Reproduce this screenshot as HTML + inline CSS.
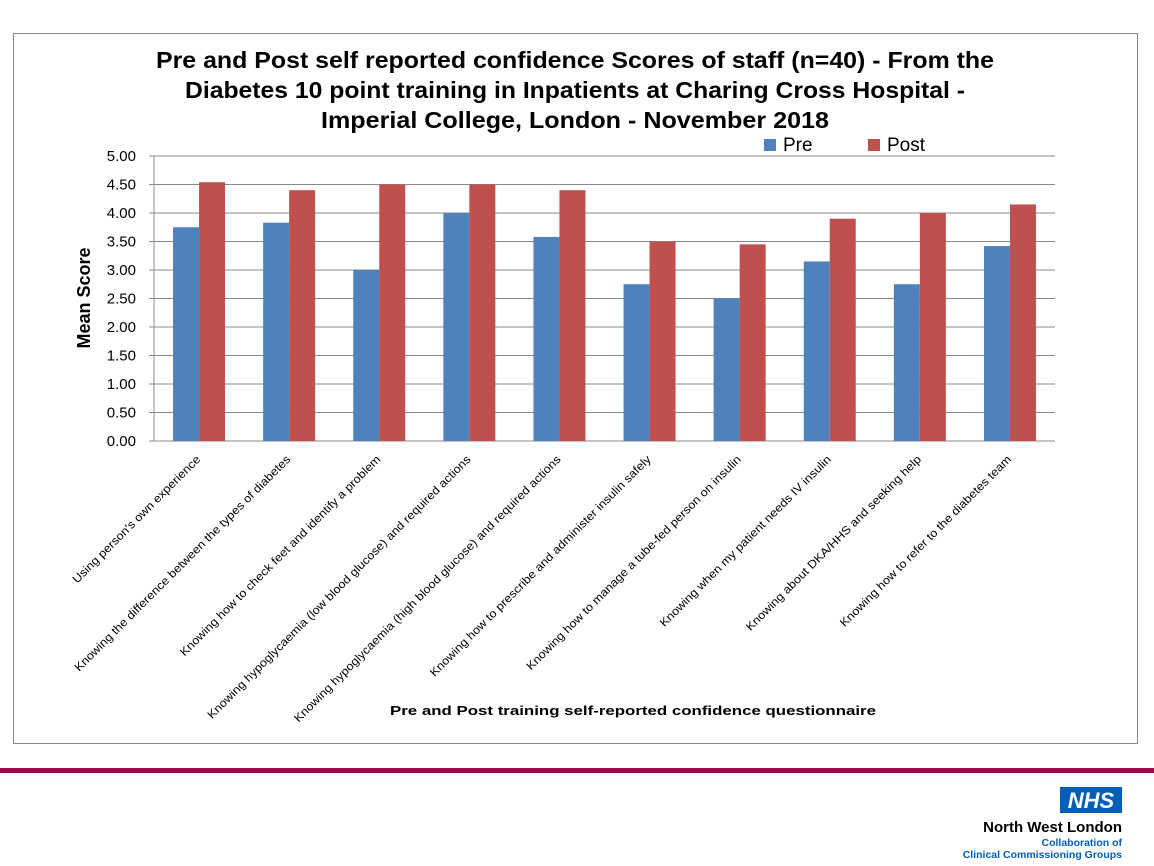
<!DOCTYPE html>
<html><head><meta charset="utf-8"><style>
html,body{margin:0;padding:0;background:#fff;width:1154px;height:866px;overflow:hidden}
svg{display:block}
</style></head><body>
<svg id="chart" width="1154" height="866" xmlns="http://www.w3.org/2000/svg" font-family="'Liberation Sans', sans-serif">
<rect x="13.5" y="33.5" width="1124" height="710" fill="#fff" stroke="#888"/>
<g font-family="'Liberation Sans Narrow','Liberation Sans',sans-serif" font-weight="bold" font-size="23" text-anchor="middle" fill="#000">
<text x="575" y="68" textLength="838" lengthAdjust="spacingAndGlyphs">Pre and Post self reported confidence Scores of staff (n=40) -  From the</text>
<text x="575" y="98" textLength="780" lengthAdjust="spacingAndGlyphs">Diabetes 10 point training in Inpatients at Charing Cross Hospital -</text>
<text x="575" y="128" textLength="508" lengthAdjust="spacingAndGlyphs">Imperial College, London - November 2018</text>
</g>
<g id="legend">
<rect x="764" y="139" width="12" height="12" fill="#4f81bd"/>
<text x="783" y="151" font-size="19" font-family="'Liberation Sans Narrow','Liberation Sans',sans-serif">Pre</text>
<rect x="868" y="139" width="12" height="12" fill="#c0504d"/>
<text x="887" y="151" font-size="19" font-family="'Liberation Sans Narrow','Liberation Sans',sans-serif">Post</text>
</g>
<text transform="translate(90,298) rotate(-90)" text-anchor="middle" font-size="18" font-weight="bold">Mean Score</text>
<text x="633" y="715" text-anchor="middle" font-size="13" font-weight="bold" textLength="486" lengthAdjust="spacingAndGlyphs">Pre and Post  training self-reported confidence questionnaire</text>
<g id="grid"></g><g id="bars"></g><g id="labels"></g>
<rect x="0" y="768" width="1154" height="5" fill="#9b0a4b"/>
<rect x="1060" y="787" width="62" height="26" fill="#005eb8"/>
<text x="1091" y="808" text-anchor="middle" font-size="22" font-weight="bold" font-style="italic" fill="#fff">NHS</text>
<text x="1122" y="832" text-anchor="end" font-size="15" font-weight="bold" fill="#000">North West London</text>
<text x="1122" y="846" text-anchor="end" font-size="10.5" font-weight="bold" fill="#005eb8">Collaboration of</text>
<text x="1122" y="858" text-anchor="end" font-size="10.5" font-weight="bold" fill="#005eb8">Clinical Commissioning Groups</text>
</svg>
<script>
const categories = ["Using person's own experience","Knowing the difference between the types of diabetes","Knowing how to check feet and identify a problem","Knowing hypoglycaemia (low blood glucose) and required actions","Knowing hypoglycaemia (high blood glucose) and required actions","Knowing how to prescribe and administer insulin safely","Knowing how to manage a tube-fed person on insulin","Knowing when my patient needs IV insulin","Knowing about DKA/HHS and seeking help","Knowing how to refer to the diabetes team"];
const preValues = [3.75,3.83,3.00,4.00,3.58,2.75,2.50,3.15,2.75,3.42];
const postValues = [4.54,4.40,4.50,4.50,4.40,3.50,3.45,3.90,4.00,4.15];
const yTicks = [0,0.5,1,1.5,2,2.5,3,3.5,4,4.5,5];
const NS='http://www.w3.org/2000/svg';
const X0=154,X1=1055,Y0=441,Y5=156;
const y=v=>Y0-(v/5)*(Y0-Y5);
const bw=(X1-X0)/categories.length;
const x=i=>X0+i*bw;
function mk(t,a,p){const e=document.createElementNS(NS,t);for(const k in a)e.setAttribute(k,a[k]);p.appendChild(e);return e;}
const grid=document.getElementById('grid'),bars=document.getElementById('bars'),labels=document.getElementById('labels');
yTicks.forEach(v=>{
 const l=mk('line',{x1:149,x2:X1,y1:y(v),y2:y(v),stroke:'#888','stroke-width':1},grid);
 
 
 const t=mk('text',{x:136,y:y(v)+5,'text-anchor':'end','font-size':15},grid);
 t.textContent=v.toFixed(2);
 
 
});
const ax=mk('line',{x1:X0,x2:X0,y1:Y5,y2:Y0,stroke:'#888'},grid);


categories.forEach((c,i)=>{
 const cx=x(i)+bw/2;
 const r1=mk('rect',{x:cx-26,y:y(preValues[i]),width:26,height:Y0-y(preValues[i]),fill:'#4f81bd'},bars);
 
 
 const r2=mk('rect',{x:cx,y:y(postValues[i]),width:26,height:Y0-y(postValues[i]),fill:'#c0504d'},bars);
 
 
 const t=mk('text',{transform:`translate(${cx+2},${Y0+19}) rotate(-45) scale(1.1,1)`,'text-anchor':'end','font-size':11.5},labels);
 t.textContent=c;
 
 
});
</script>
</body></html>
